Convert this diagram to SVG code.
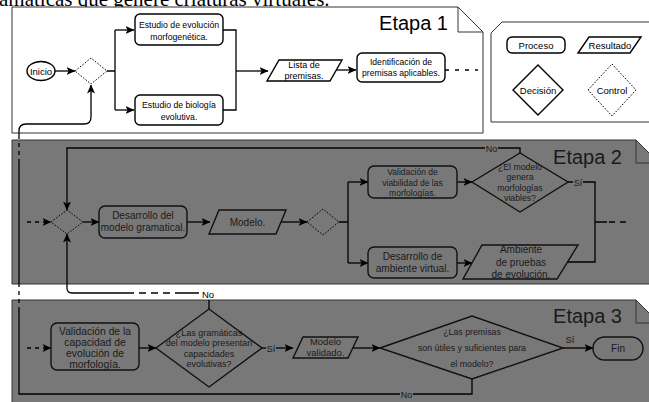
<svg xmlns="http://www.w3.org/2000/svg" width="649" height="402" viewBox="0 0 649 402">
<defs>
<marker id="ah" markerUnits="userSpaceOnUse" markerWidth="9" markerHeight="8" refX="8.5" refY="4" orient="auto">
<path d="M0,0 L9,4 L0,8 L2.2,4 Z" fill="#000"/>
</marker>
<style>
text{font-family:"Liberation Sans",Arial,sans-serif;text-anchor:middle;fill:#000}
.g text,.gt{fill:#1a1a1a}
.ln{fill:none;stroke:#000;stroke-width:1.3}
.ar{marker-end:url(#ah)}
.dash{stroke-dasharray:4,4}
.nd{fill:#fff;stroke:#000;stroke-width:1.4}
.gnd{fill:#787878;stroke:#111;stroke-width:1.4}
.ctl{fill:none;stroke:#000;stroke-width:1;stroke-dasharray:1.6,1.6}
.stage{fill:#787878;stroke:#333;stroke-width:1}
.wstage{fill:#fff;stroke:#333;stroke-width:1}
.et{font-size:20px;text-anchor:end}
</style>
</defs>
<rect width="649" height="402" fill="#fff"/>
<text x="-1" y="6" style="font-family:'Liberation Serif','Times New Roman',serif;font-size:21px;text-anchor:start">amáticas que genere criaturas virtuales.</text>

<!-- stages -->
<g id="etapa1">
<path class="wstage" d="M12,7 H458 L483,32 V133 H12 Z"/>
<path class="ln" style="stroke-width:1;stroke:#333" d="M458,7 V32 H483"/>
<text class="et" x="448" y="30">Etapa 1</text>
</g>
<g id="leyenda">
<path class="wstage" d="M502,22 H660 V122 H491 V33 Z"/>
<g id="lg-proceso"><rect class="nd" x="507" y="37" width="58" height="16" rx="5"/><text x="536" y="48.5" font-size="9.5">Proceso</text></g>
<g id="lg-resultado"><path class="nd" d="M589,37 H641 L630,53 H578 Z"/><text x="610" y="48.5" font-size="9.5">Resultado</text></g>
<g id="lg-decision"><path class="nd" d="M513,90 L538,65 L563,90 L538,115 Z"/><text x="538" y="93.5" font-size="9.5">Decisión</text></g>
<g id="lg-control"><path class="ctl" d="M588,90 L612,64 L636,90 L612,116 Z"/><text x="612" y="93.5" font-size="9.5">Control</text></g>
</g>
<g id="etapa2" class="g">
<path class="stage" d="M12,140 H636 L660,164 V284 H12 Z"/>
<path class="ln" style="stroke-width:1;stroke:#333" d="M636,140 V163 H660"/>
<text class="et" x="622" y="164">Etapa 2</text>
</g>
<g id="etapa3" class="g">
<path class="stage" d="M12,300 H636 L660,324 V410 H12 Z"/>
<path class="ln" style="stroke-width:1;stroke:#333" d="M636,300 V323 H660"/>
<text class="et" x="622" y="323">Etapa 3</text>
</g>

<!-- connectors -->
<g id="connectors">
<path class="ln ar" d="M55,71 H75"/>
<path class="ln" d="M107,71 H115 M115,30 V110"/>
<path class="ln ar" d="M115,30 H134"/>
<path class="ln ar" d="M115,110 H134"/>
<path class="ln" d="M223,30 H236 V110 H223"/>
<path class="ln ar" d="M236,71 H268"/>
<path class="ln ar" d="M336,70 H356"/>
<path class="ln dash" d="M445,70 H478" style="stroke-dasharray:4,6"/>
<!-- big loop back to etapa 1 -->
<path class="ln ar" d="M19,135 V131 Q19,124 26,124 H84 Q91,124 91,117 V85"/>
<path class="ln dash" d="M19,135 V163"/>
<path class="ln" d="M19,163 V283"/>
<path class="ln dash" d="M19,283 V310"/>
<path class="ln" d="M19,310 V394 H400"/>
<path class="ln" d="M413,394 H472 V379"/>
<text x="406.5" y="397.5" font-size="9" class="gt">No</text>
<!-- etapa 2 -->
<path class="ln ar dash" d="M27,222 H51"/>
<path class="ln ar" d="M83,222 H99"/>
<path class="ln ar" d="M187,222 H210"/>
<path class="ln ar" d="M281,222 H307"/>
<path class="ln" d="M339,222 H348 M348,182 V263"/>
<path class="ln ar" d="M348,182 H368"/>
<path class="ln ar" d="M348,263 H368"/>
<path class="ln ar" d="M457,182 H472"/>
<path class="ln ar" d="M457,263 H472"/>
<path class="ln" d="M520,153 V148 H498"/>
<path class="ln ar" d="M485,148 H67 V210"/>
<text x="491.5" y="151.5" font-size="9" class="gt">No</text>
<path class="ln" d="M568,182 H573 M583,182 H595 V262 H567 M595,222 H607"/>
<path class="ln" d="M609,222 H631" style="stroke-dasharray:6,5"/>
<text x="578" y="185.5" font-size="9" class="gt">Sí</text>
<path class="ln ar" d="M127,293 H72 Q67,293 67,288 V234"/>
<path class="ln dash" d="M127,293 H175" style="stroke-dasharray:7,5"/>
<path class="ln" d="M175,293 H199 M209,300 V309"/>
<text x="208" y="298" font-size="9.5">No</text>
<!-- etapa 3 -->
<path class="ln ar dash" d="M27,348 H51"/>
<path class="ln ar" d="M139,348 H156"/>
<path class="ln" d="M262,348 H266"/>
<path class="ln ar" d="M276,348 H293"/>
<text x="271" y="351.5" font-size="9.5" class="gt">Sí</text>
<path class="ln ar" d="M353,348 H380"/>
<path class="ln ar" d="M563,348 H593"/>
<text x="570" y="343" font-size="9.5" class="gt">Sí</text>
</g>

<!-- nodes etapa 1 -->
<g id="inicio"><ellipse class="nd" cx="41" cy="71" rx="14" ry="9.5"/><text x="41" y="74.5" font-size="9.5">Inicio</text></g>
<g id="control1"><path class="ctl" d="M75,71 L91,58 L107,71 L91,84 Z"/></g>
<g id="evol-morf"><rect class="nd" x="135" y="14" width="88" height="31" rx="5"/><text x="179" y="27.5" font-size="8.7">Estudio de evolución</text><text x="179" y="39.5" font-size="8.7">morfogenética.</text></g>
<g id="bio-evol"><rect class="nd" x="135" y="95" width="88" height="30" rx="5"/><text x="179" y="108" font-size="8.7">Estudio de biología</text><text x="179" y="120" font-size="8.7">evolutiva.</text></g>
<g id="lista"><path class="nd" d="M279,60 H342 L330,81 H267 Z"/><text x="304" y="68" font-size="9">Lista de</text><text x="304" y="79" font-size="9">premisas.</text></g>
<g id="identificacion"><rect class="nd" x="357" y="53" width="88" height="29" rx="5"/><text x="401" y="65" font-size="8.6">Identificación de</text><text x="401" y="76" font-size="8.6">premisas aplicables.</text></g>

<!-- nodes etapa 2 -->
<g id="control2" class="g"><path class="ctl" d="M51,222 L67,210 L83,222 L67,234 Z"/></g>
<g id="desarrollo-modelo" class="g"><rect class="gnd" x="99" y="206" width="88" height="32" rx="6"/><text x="143" y="219" font-size="10">Desarrollo del</text><text x="143" y="231" font-size="10">modelo gramatical.</text></g>
<g id="modelo" class="g"><path class="gnd" d="M219,210 H286 L276,234 H209 Z"/><text x="247.5" y="225.5" font-size="10">Modelo.</text></g>
<g id="control3" class="g"><path class="ctl" d="M307,222 L323,209 L339,222 L323,235 Z"/></g>
<g id="validacion-viab" class="g"><rect class="gnd" x="368" y="166" width="89" height="32" rx="6"/><text x="412.5" y="174.8" font-size="8.5">Validación de</text><text x="412.5" y="185.6" font-size="8.5">viabilidad de las</text><text x="412.5" y="196.2" font-size="8.5">morfologías.</text></g>
<g id="decision-viables" class="g"><path class="gnd" d="M472,182 L520,153 L568,182 L520,212 Z"/><text x="520" y="170" font-size="8.7">¿El modelo</text><text x="520" y="180.3" font-size="8.7">genera</text><text x="520" y="190.6" font-size="8.7">morfologías</text><text x="520" y="200.9" font-size="8.7">viables?</text></g>
<g id="desarrollo-ambiente" class="g"><rect class="gnd" x="368" y="247" width="89" height="31" rx="6"/><text x="412.5" y="259.5" font-size="10">Desarrollo de</text><text x="412.5" y="271.5" font-size="10">ambiente virtual.</text></g>
<g id="ambiente" class="g"><path class="gnd" d="M482,245 H578 L557,279 H463 Z"/><text x="521" y="252.8" font-size="10">Ambiente</text><text x="521" y="266" font-size="10">de pruebas</text><text x="521" y="277.5" font-size="10">de evolución.</text></g>

<!-- nodes etapa 3 -->
<g id="validacion-capacidad" class="g"><rect class="gnd" x="51" y="323" width="88" height="47" rx="6"/><text x="95" y="334.5" font-size="10.3">Validación de la</text><text x="95" y="345.5" font-size="10.3">capacidad de</text><text x="95" y="356.5" font-size="10.3">evolución de</text><text x="95" y="367.5" font-size="10.3">morfología.</text></g>
<g id="decision-gramaticas" class="g"><path class="gnd" d="M156,348 L209,309 L262,348 L209,387 Z"/><text x="209" y="335.5" font-size="9">¿Las gramáticas</text><text x="209" y="346" font-size="9">del modelo presentan</text><text x="209" y="356.5" font-size="9">capacidades</text><text x="209" y="367" font-size="9">evolutivas?</text></g>
<g id="modelo-validado" class="g"><path class="gnd" d="M303,337 H358 L348,358 H293 Z"/><text x="325.5" y="345" font-size="9.5">Modelo</text><text x="325.5" y="356" font-size="9.5">validado.</text></g>
<g id="decision-premisas" class="g"><path class="gnd" d="M380,348 L472,316 L563,348 L472,379 Z"/><text x="472" y="335" font-size="8.8">¿Las premisas</text><text x="472" y="351" font-size="8.8">son útiles y suficientes para</text><text x="472" y="367" font-size="8.8">el modelo?</text></g>
<g id="fin" class="g"><rect class="gnd" x="593" y="337" width="50" height="23" rx="11.5"/><text x="618" y="352" font-size="10">Fin</text></g>
</svg>
